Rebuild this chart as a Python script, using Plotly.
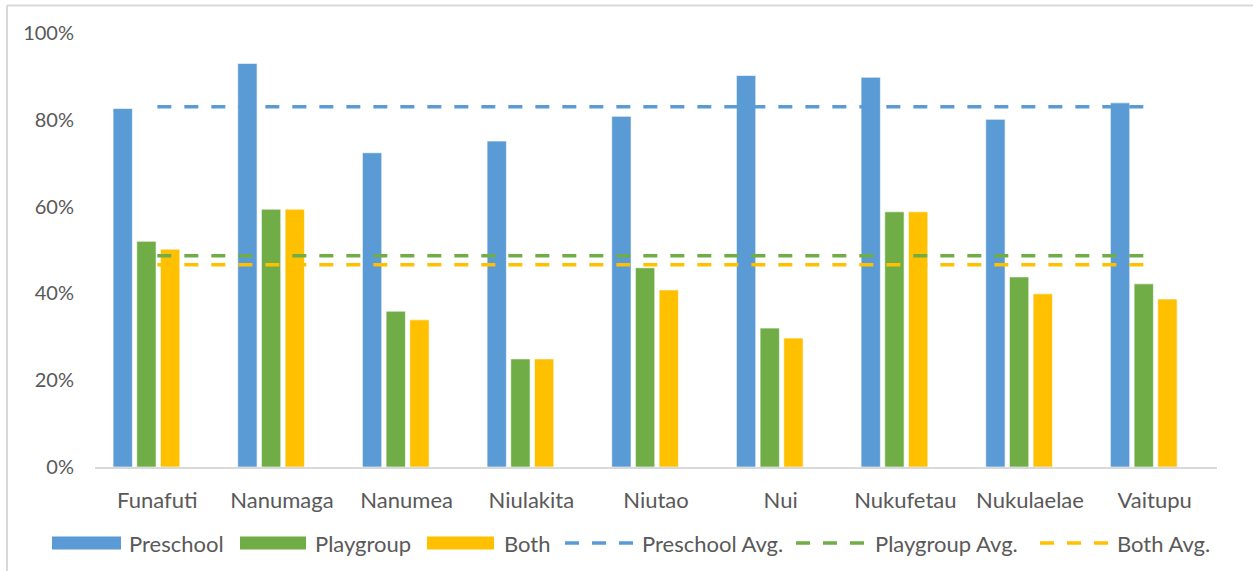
import plotly.graph_objects as go

# Share of children attending early childhood programmes, by island
islands = ["Funafuti", "Nanumaga", "Nanumea", "Niulakita", "Niutao",
           "Nui", "Nukufetau", "Nukulaelae", "Vaitupu"]
preschool = [0.826, 0.930, 0.724, 0.751, 0.808, 0.902, 0.898, 0.801, 0.839]
playgroup = [0.520, 0.594, 0.359, 0.249, 0.459, 0.320, 0.588, 0.438, 0.422]
both      = [0.502, 0.594, 0.339, 0.249, 0.408, 0.297, 0.588, 0.399, 0.387]

preschool_avg = 0.830
playgroup_avg = 0.487
both_avg = 0.466

BLUE, GREEN, GOLD = "#5B9BD5", "#70AD47", "#FFC000"
TEXT = "#595959"
FONT = "Lato"
WORD_SIZE = 22
NUM_SIZE = 20

W, H = 1253, 571
L, R, T, B = 95, 36, 33, 104
PW, PH = W - L - R, H - T - B


def px(x):
    return (x - L) / PW


def py(y):
    return (H - B - y) / PH


fig = go.Figure()

bar_width = 0.155
for name, vals, col, off in [("Preschool", preschool, BLUE, -0.355),
                             ("Playgroup", playgroup, GREEN, -0.165),
                             ("Both", both, GOLD, 0.025)]:
    fig.add_trace(go.Bar(
        x=islands, y=vals, name=name, width=bar_width, offset=off,
        marker=dict(color=col, line=dict(color="rgba(255,255,255,0.6)", width=1)),
        showlegend=False,
    ))

DASH = "14px,13px"
for name, avg, col in [("Preschool Avg.", preschool_avg, BLUE),
                       ("Playgroup Avg.", playgroup_avg, GREEN),
                       ("Both Avg.", both_avg, GOLD)]:
    fig.add_trace(go.Scatter(
        x=islands, y=[avg] * len(islands), name=name, mode="lines",
        line=dict(color=col, width=3.5, dash=DASH),
        showlegend=False,
    ))

shapes = []
annotations = []

# chart frame (top and left edges)
shapes.append(dict(type="line", xref="paper", yref="paper",
                   x0=px(7), x1=px(W + 5), y0=py(5.5), y1=py(5.5),
                   line=dict(color="#d9d9d9", width=2)))
shapes.append(dict(type="line", xref="paper", yref="paper",
                   x0=px(7), x1=px(7), y0=py(5.5), y1=py(H + 5),
                   line=dict(color="#d9d9d9", width=2)))

# legend row
ly = 543
legend_boxes = [("Preschool", BLUE, 52, 121, 127),
                ("Playgroup", GREEN, 240, 306, 313),
                ("Both", GOLD, 427, 494, 502)]
for label, col, x0, x1, tx in legend_boxes:
    shapes.append(dict(type="rect", xref="paper", yref="paper",
                       x0=px(x0), x1=px(x1), y0=py(ly + 6.5), y1=py(ly - 6.5),
                       fillcolor=col, line=dict(width=0)))
    annotations.append(dict(text=label, xref="paper", yref="paper",
                            x=px(tx), y=py(ly), xanchor="left", yanchor="middle",
                            showarrow=False,
                            font=dict(family=FONT, size=WORD_SIZE, color=TEXT)))

legend_lines = [("Preschool Avg.", BLUE, 565, 634, 640),
                ("Playgroup Avg.", GREEN, 796, 866, 873),
                ("Both Avg.", GOLD, 1040, 1108, 1115)]
for label, col, x0, x1, tx in legend_lines:
    shapes.append(dict(type="line", xref="paper", yref="paper",
                       x0=px(x0), x1=px(x1), y0=py(ly), y1=py(ly),
                       line=dict(color=col, width=3.5, dash=DASH)))
    annotations.append(dict(text=label, xref="paper", yref="paper",
                            x=px(tx), y=py(ly), xanchor="left", yanchor="middle",
                            showarrow=False,
                            font=dict(family=FONT, size=WORD_SIZE, color=TEXT)))

fig.update_layout(
    width=W, height=H,
    margin=dict(l=L, r=R, t=T, b=B, pad=0),
    paper_bgcolor="white", plot_bgcolor="white",
    font=dict(family=FONT, size=NUM_SIZE, color=TEXT),
    barmode="overlay",
    showlegend=False,
    shapes=shapes,
    annotations=annotations,
    xaxis=dict(
        showgrid=False, showline=True, linecolor="#d9d9d9", linewidth=1.5,
        ticks="", tickfont=dict(family=FONT, size=WORD_SIZE, color=TEXT),
        ticklabelstandoff=13, zeroline=False,
    ),
    yaxis=dict(
        range=[0, 1], dtick=0.2, tickformat=".0%",
        showgrid=False, showline=False, zeroline=False,
        ticks="", tickfont=dict(family=FONT, size=NUM_SIZE, color=TEXT),
        ticklabelstandoff=20,
    ),
)

fig.write_html("out.html")
